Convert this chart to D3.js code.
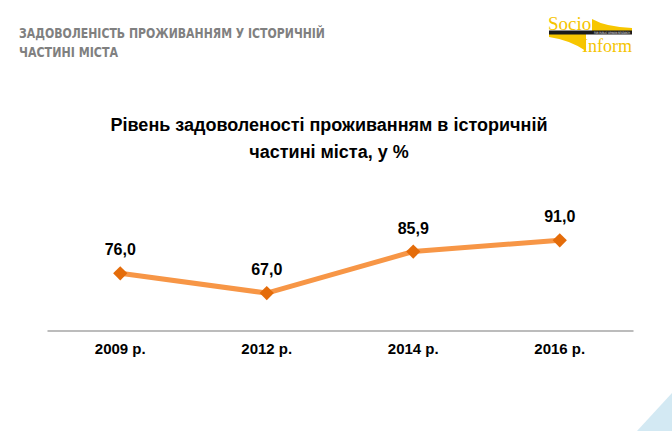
<!DOCTYPE html>
<html lang="uk">
<head>
  <meta charset="UTF-8">
  <title>Задоволеність проживанням</title>
  <script src="https://d3js.org/d3.v7.min.js"></script>
  <style>
    html, body { margin: 0; padding: 0; background: #fff; }
    svg { display: block; }
  </style>
</head>
<body>
  <div id="root"></div>
  <script>
    // дані
    const years = ['2009 р.', '2012 р.', '2014 р.', '2016 р.']
    const values = [76.0, 67.0, 85.9, 91.0]
    const yDomain = [50, 100]

    const width = 672
    const height = 431
    const font = '"Liberation Sans", Arial, sans-serif'

    const svg = d3.select('#root')
      .append('svg')
      .attr('width', width)
      .attr('height', height)

    // заголовок слайду (вузький шрифт - стискаємо через textLength)
    const head = svg.append('g')
      .attr('font-family', '"Liberation Sans Narrow", "DejaVu Sans Condensed", sans-serif')
      .attr('font-weight', 'bold')
      .attr('font-size', 13.5)
      .attr('fill', '#808080')
    head.append('text').attr('x', 19).attr('y', 38)
      .attr('textLength', 306).attr('lengthAdjust', 'spacingAndGlyphs')
      .text('ЗАДОВОЛЕНІСТЬ ПРОЖИВАННЯМ У ІСТОРИЧНІЙ')
    head.append('text').attr('x', 19).attr('y', 57)
      .attr('textLength', 99).attr('lengthAdjust', 'spacingAndGlyphs')
      .text('ЧАСТИНІ МІСТА')

    // логотип
    const logo = svg.append('g')
    logo.append('path')
      .attr('d', 'M592,31 L592,19 Q606,27 632,28 L632,31 Z')
      .attr('fill', '#f7c600')
    logo.append('path')
      .attr('d', 'M549,34 L586,34 L586,51 Q570,40 549,37 Z')
      .attr('fill', '#f7c600')
    logo.append('rect')
      .attr('x', 549).attr('y', 30.5).attr('width', 83).attr('height', 4)
      .attr('fill', '#1a1a1a')
    logo.append('text')
      .attr('x', 594).attr('y', 33.8)
      .attr('textLength', 36).attr('lengthAdjust', 'spacingAndGlyphs')
      .attr('font-family', 'DejaVu Sans, sans-serif')
      .attr('font-size', 3)
      .attr('fill', '#fff')
      .text('FOR PUBLIC OPINION RESEARCH')
    logo.append('text')
      .attr('x', 548).attr('y', 29.5)
      .attr('font-family', '"Liberation Serif", serif')
      .attr('font-size', 19)
      .attr('fill', '#f5c400')
      .text('Socio')
    logo.append('text')
      .attr('x', 582).attr('y', 51.5)
      .attr('font-family', '"Liberation Serif", serif')
      .attr('font-size', 18)
      .attr('fill', '#f5c400')
      .text('Inform')

    // блакитний кут
    svg.append('path')
      .attr('d', `M637,${height} L${width},393 L${width},${height} Z`)
      .attr('fill', '#d3e9f3')

    // назва діаграми
    const title = svg.append('text')
      .attr('text-anchor', 'middle')
      .attr('font-family', font)
      .attr('font-weight', 'bold')
      .attr('font-size', 18)
      .attr('fill', '#000')
    title.append('tspan').attr('x', 329).attr('y', 131).text('Рівень задоволеності проживанням в історичній')
    title.append('tspan').attr('x', 329).attr('y', 158).text('частині міста, у %')

    // шкали
    const x = d3.scaleBand()
      .domain(years)
      .range([47, 633])

    const y = d3.scaleLinear()
      .domain(yDomain)
      .range([330.5, 220.5])

    // вісь x
    const xAxis = d3.axisBottom(x).tickSize(0).tickPadding(13)
    const xAxisG = svg.append('g')
      .attr('transform', `translate(0, ${y(yDomain[0])})`)
      .call(xAxis)
    xAxisG.select('.domain').attr('stroke', '#a6a6a6').attr('stroke-width', 1.3)
    xAxisG.selectAll('text')
      .attr('font-family', font)
      .attr('font-weight', 'bold')
      .attr('font-size', 15)
      .attr('fill', '#000')

    const data = years.map((d, i) => ({ year: d, value: values[i] }))
    const cx = d => x(d.year) + x.bandwidth() / 2

    // лінія
    const line = d3.line()
      .x(cx)
      .y(d => y(d.value))

    svg.append('path')
      .datum(data)
      .attr('d', line)
      .attr('fill', 'none')
      .attr('stroke', '#f79646')
      .attr('stroke-width', 5)
      .attr('stroke-linejoin', 'round')

    // маркери-ромби
    svg.selectAll('.marker')
      .data(data)
      .enter()
      .append('path')
      .attr('class', 'marker')
      .attr('d', d3.symbol(d3.symbolDiamond2, 130))
      .attr('transform', d => `translate(${cx(d)}, ${y(d.value)})`)
      .attr('fill', '#e46c0a')

    // підписи значень
    svg.selectAll('.label')
      .data(data)
      .enter()
      .append('text')
      .attr('class', 'label')
      .attr('x', cx)
      .attr('y', d => y(d.value) - 18)
      .attr('text-anchor', 'middle')
      .attr('font-family', font)
      .attr('font-weight', 'bold')
      .attr('font-size', 16)
      .attr('fill', '#000')
      .text(d => d.value.toFixed(1).replace('.', ','))
  </script>
</body>
</html>
